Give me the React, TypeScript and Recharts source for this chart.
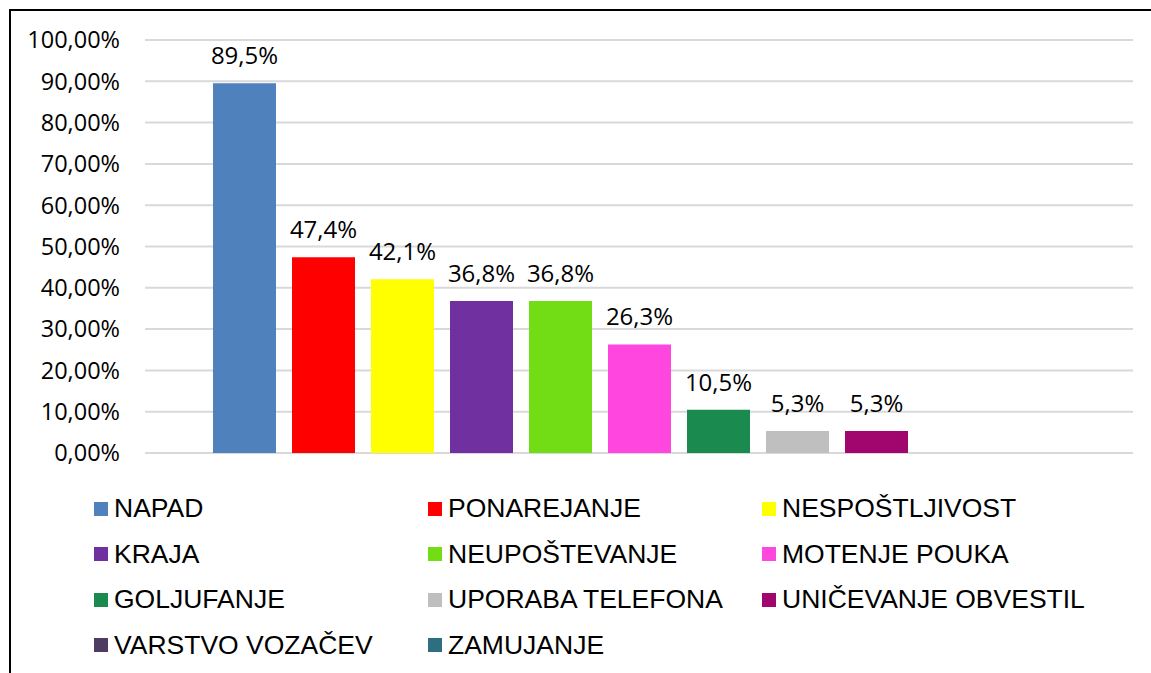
import { Bar, BarChart, CartesianGrid, LabelList, XAxis, YAxis } from "recharts";

const CATEGORIES = [
  "NAPAD",
  "PONAREJANJE",
  "NESPOŠTLJIVOST",
  "KRAJA",
  "NEUPOŠTEVANJE",
  "MOTENJE POUKA",
  "GOLJUFANJE",
  "UPORABA TELEFONA",
  "UNIČEVANJE OBVESTIL",
  "VARSTVO VOZAČEV",
  "ZAMUJANJE",
];
const VALUES = [89.5, 47.4, 42.1, 36.8, 36.8, 26.3, 10.5, 5.3, 5.3, 0, 0];
const COLORS = [
  "#4F81BD",
  "#FF0000",
  "#FFFF00",
  "#7030A0",
  "#72DC14",
  "#FF47E0",
  "#1A8A4E",
  "#BFBFBF",
  "#A0066E",
  "#4E3B62",
  "#2D6E80",
];
const Y_TICKS = [0, 10, 20, 30, 40, 50, 60, 70, 80, 90, 100];

const GRID = "#D9D9D9";
const NUM_FONT = "'Open Sans', sans-serif";
const LEGEND_FONT = "'Liberation Sans', Arial, sans-serif";

// one category, one series per offence
const row: Record<string, number | string> = { name: "" };
CATEGORIES.forEach((_, i) => {
  row[`s${i}`] = VALUES[i];
});
const data = [row];

const fmtTick = (v: number) => `${v.toFixed(2).replace(".", ",")}%`;
const fmtLabel = (v: unknown) => {
  const n = Number(v);
  if (!n) return "";
  return `${n.toFixed(1).replace(".", ",")}%`;
};

export default function App() {
  return (
    <div
      style={{
        position: "absolute",
        left: 0,
        top: 0,
        width: 1151,
        height: 673,
        background: "#fff",
        overflow: "hidden",
      }}
    >
      {/* frame: only top and left edges are visible in the crop */}
      <div
        style={{
          position: "absolute",
          left: 9,
          top: 9,
          width: 1200,
          height: 700,
          borderTop: "2px solid #000",
          borderLeft: "2px solid #000",
        }}
      />

      <div style={{ position: "absolute", left: 0, top: 0 }}>
        <BarChart
          width={1151}
          height={673}
          data={data}
          margin={{ top: 40, right: 18, left: 0, bottom: 220 }}
          barGap={16}
          barCategoryGap={68}
        >
          <CartesianGrid stroke={GRID} strokeWidth={2} vertical={false} />
          <XAxis
            dataKey="name"
            tick={false}
            tickLine={false}
            axisLine={{ stroke: GRID, strokeWidth: 2 }}
            height={0}
          />
          <YAxis
            domain={[0, 100]}
            ticks={Y_TICKS}
            tickFormatter={fmtTick}
            width={145}
            axisLine={false}
            tickLine={false}
            tickSize={0}
            tickMargin={25}
            tick={{ fill: "#000", fontSize: 23.5, fontFamily: NUM_FONT }}
            interval={0}
          />
          {CATEGORIES.map((name, i) => (
            <Bar
              key={name}
              dataKey={`s${i}`}
              name={name}
              fill={COLORS[i]}
              isAnimationActive={false}
            >
              <LabelList
                dataKey={`s${i}`}
                position="top"
                offset={19}
                formatter={fmtLabel}
                style={{ fill: "#000", fontSize: 24, fontFamily: NUM_FONT }}
              />
            </Bar>
          ))}
        </BarChart>
      </div>

      {/* Legend */}
      <div
        style={{
          position: "absolute",
          left: 94,
          top: 486,
          display: "grid",
          gridTemplateColumns: "334px 334px 334px",
          gridAutoRows: "45.5px",
        }}
      >
        {CATEGORIES.map((name, i) => (
          <div key={name} style={{ display: "flex", alignItems: "center" }}>
            <span
              style={{
                display: "block",
                width: 14,
                height: 14,
                background: COLORS[i],
                marginRight: 6,
              }}
            />
            <span
              style={{
                fontFamily: LEGEND_FONT,
                fontSize: 26.5,
                color: "#000",
                whiteSpace: "nowrap",
              }}
            >
              {name}
            </span>
          </div>
        ))}
      </div>
    </div>
  );
}
